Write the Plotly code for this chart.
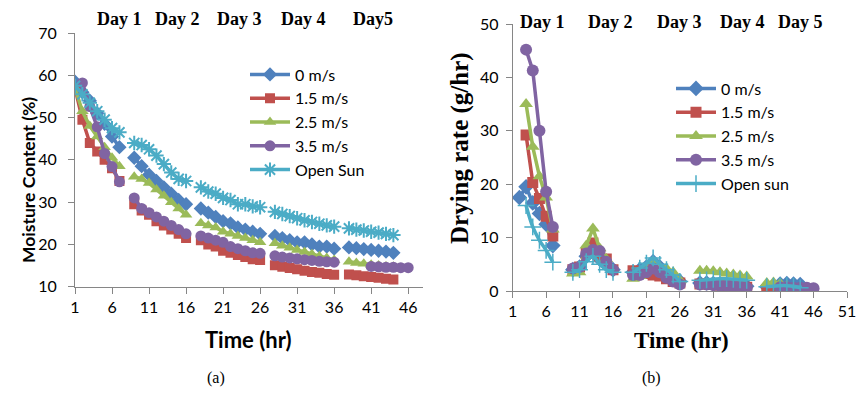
import plotly.graph_objects as go

hours = list(range(1, 47))
series_names_a = ["0 m/s", "1.5 m/s", "2.5 m/s", "3.5 m/s", "Open Sun"]
series_names_b = ["0 m/s", "1.5 m/s", "2.5 m/s", "3.5 m/s", "Open sun"]
day_labels_a = ["Day 1", "Day 2", "Day 3", "Day 4", "Day5"]
day_labels_b = ["Day 1", "Day 2", "Day 3", "Day 4", "Day 5"]
xticks_a = [1, 6, 11, 16, 21, 26, 31, 36, 41, 46]
xticks_b = [1, 6, 11, 16, 21, 26, 31, 36, 41, 46, 51]
yticks_a = [10, 20, 30, 40, 50, 60, 70]
yticks_b = [0, 10, 20, 30, 40, 50]

# (a) Moisture content (%)
mc_0 = [58.5, 56, 54, 51, 48.5, 45.5, 43, None,
        40.5, 38.5, 36.5, 35, 33.5, 32, 30.5, 29.5, None,
        28.5, 27.5, 26.5, 25.5, 25, 24, 23.5, 23, 22.5, None,
        22, 21.5, 21, 20.5, 20.5, 20, 19.5, 19.5, 19, None,
        19.3, 19.1, 18.9, 18.7, 18.5, 18.3, 18, None, None]
mc_15 = [57, 49.5, 44, 42, 40, 38, 35, None,
         29.5, 28, 27, 25.5, 24.5, 23.5, 22.5, 21.5, None,
         21, 20, 19.5, 18.5, 18, 17.5, 17, 16.5, 16.3, None,
         15.1, 14.7, 14.4, 14.1, 13.8, 13.5, 13.3, 13.0, 12.8, None,
         12.9, 12.7, 12.5, 12.3, 12.1, 11.9, 11.7, None, None]
mc_25 = [57, 51.5, 48, 45.5, 43, 40.5, 38.5, None,
         36, 35.5, 34.5, 33, 31.5, 30, 28.5, 27, None,
         25, 24.5, 24, 23, 22.5, 22, 21.5, 21, 20.5, None,
         20.3, 19.7, 19.2, 18.7, 18.2, 17.7, 17.2, 16.8, 16.3, None,
         15.9, 15.6, 15.4, 15.2, 15.0, 14.8, 14.7, None, None]
mc_35 = [None, 58.2, 52.6, 47.8, 41.5, 38.4, 34.8, None,
         31, 28.5, 27.5, 26.5, 25.5, 24.5, 23.5, 22.5, None,
         22, 21.5, 21, 20.5, 19.5, 19, 18.5, 18, 17.9, None,
         17.3, 17.0, 16.8, 16.6, 16.4, 16.2, 16.0, 15.9, 15.8, None,
         None, None, None, 14.8, 14.7, 14.6, 14.6, 14.5, 14.5]
mc_sun = [57.5, 55.5, 53.5, 51.5, 49.5, 47.5, 46.5, None,
          44, 43.5, 42.5, 41, 39, 37, 35.5, 35, None,
          33.5, 32.5, 32, 31, 30.5, 29.5, 29.5, 29, 28.8, None,
          27.7, 27.2, 26.7, 26.2, 25.7, 25.3, 24.9, 24.5, 24.2, None,
          23.8, 23.5, 23.3, 23.0, 22.8, 22.5, 22.2, None, None]

# (b) Drying rate (g/hr)
dr_0 = [None, 17.5, 19.5, 16.5, 14.5, 12.5, 8.5, None,
        None, 4, 4.5, 6.5, 8, 6, 5, 4, None,
        None, 3.5, 4, 4.5, 5.5, 4.5, 3.5, 2.5, 1.8, None,
        None, 1.5, 1.5, 1.4, 1.3, 1.2, 1.1, 1.0, 0.9, None,
        None, 0.8, 1.0, 1.3, 1.4, 1.3, 1.2, None, None]
dr_15 = [None, None, 29.2, 20.3, 17.3, 14, 10.3, None,
         None, 4, 4.5, 7, 9, 6.5, 6, 4, None,
         None, 3.8, 3.5, 3.3, 3, 2.8, 2.3, 1.8, 1.5, None,
         None, 1.3, 1.3, 1.2, 1.1, 1.0, 0.9, 0.8, 0.7, None,
         None, 0.2, 0.2, 0.2, 0.1, 0.1, 0.1, 0.1, None]
dr_25 = [None, None, 35, 27, 21.5, 17.5, 11.5, None,
         None, 3.3, 3.5, 8.5, 11.7, 8, 6, 4, None,
         None, 2.3, 2.8, 4, 5.5, 4.5, 4.2, 3.5, 2, None,
         None, 3.8, 3.8, 3.7, 3.5, 3.3, 3.1, 2.9, 2.7, None,
         None, 1.5, 1.6, 1.4, 1.0, 0.7, 0.5, None, None]
dr_35 = [None, None, 45.2, 41.3, 30, 18.6, 12, None,
         None, 4.2, 4.5, 7, 7.7, 7.5, 5.5, 4, None,
         None, 3, 3, 3.5, 4.2, 3.5, 2.5, 1.8, 1.2, None,
         None, 1.2, 1.2, 1.1, 1.0, 1.0, 0.9, 0.8, 0.6, None,
         None, None, None, 0.7, 0.7, 0.6, 0.6, 0.6, 0.5]
dr_sun = [None, None, 16, 12, 9.5, 7.6, 5.4, None,
          None, 3.5, 4, 5.5, 6.5, 5, 4, 3.5, None,
          None, 3.5, 4.3, 5.2, 6.2, 5, 4, 3, 1.8, None,
          None, 2.0, 2.1, 2.2, 2.3, 2.3, 2.2, 2.1, 2.0, None,
          None, 0.8, 0.9, 1.0, 1.0, 0.9, 0.6, None, None]

colors = ["#4F81BD", "#C0504D", "#9BBB59", "#8064A2", "#4BACC6"]
W, H = 866, 393
SANS = "Lato, 'Open Sans', sans-serif"
SERIF = "'Liberation Serif', 'DejaVu Serif', serif"

def px(x):
    return x / W

def py(y):
    return 1 - y / H

fig = go.Figure()

sym_a = ["diamond", "square", "triangle-up", "circle", "asterisk-open"]
sym_b = ["diamond", "square", "triangle-up", "circle", "cross-thin-open"]
sizes_a = [11, 10, 11, 11, 12]
sizes_b = [12, 11, 12, 12, 12]

for name, vals, c, s, sz in zip(series_names_a, [mc_0, mc_15, mc_25, mc_35, mc_sun], colors, sym_a, sizes_a):
    fig.add_trace(go.Scatter(
        x=hours, y=vals, name=name, mode="lines+markers",
        line=dict(color=c, width=3.5),
        marker=dict(symbol=s, size=sz, color=c, line=dict(color=c, width=2 if "open" in s else 0)),
        xaxis="x", yaxis="y", legend="legend"))

for name, vals, c, s, sz in zip(series_names_b, [dr_0, dr_15, dr_25, dr_35, dr_sun], colors, sym_b, sizes_b):
    fig.add_trace(go.Scatter(
        x=hours, y=vals, name=name, mode="lines+markers",
        line=dict(color=c, width=3.5, shape="spline" if name == "Open sun" else "linear"),
        marker=dict(symbol=s, size=sz, color=c, line=dict(color=c, width=1.5 if "open" in s else 0)),
        xaxis="x2", yaxis="y2", legend="legend2"))

axis_common = dict(showgrid=False, zeroline=False, showline=True, linecolor="#868686", linewidth=1,
                   ticks="outside", ticklen=6, tickcolor="#868686", automargin=False,
                   tickfont=dict(family=SANS, size=16, color="#000000"))

def note(text, x, y, font, angle=0):
    return dict(text=text, x=px(x), y=py(y), xref="paper", yref="paper", xanchor="center",
                yanchor="middle", showarrow=False, textangle=angle, font=font)

annotations = []
for lab, xp in zip(day_labels_a, [119, 177, 240, 303, 373]):
    annotations.append(note("<b>%s</b>" % lab, xp, 19, dict(family=SERIF, size=18, color="#000")))
for lab, xp in zip(day_labels_b, [542, 610, 679, 742, 800]):
    annotations.append(note("<b>%s</b>" % lab, xp, 22, dict(family=SERIF, size=18, color="#000")))
annotations += [
    note("<b>Moisture Content (%)</b>", 28, 180, dict(family=SANS, size=17.5, color="#000"), -90),
    note("<b>Time (hr)</b>", 248, 339, dict(family=SANS, size=22, color="#000")),
    note("<b>Drying rate (g/hr)</b>", 460, 148, dict(family=SERIF, size=25, color="#000"), -90),
    note("<b>Time (hr)</b>", 681, 340, dict(family=SERIF, size=23, color="#000")),
    note("(a)", 216, 378, dict(family=SERIF, size=16, color="#000")),
    note("(b)", 651, 378, dict(family=SERIF, size=16, color="#000")),
]

legend_common = dict(font=dict(family=SANS, size=16, color="#000"), itemwidth=40,
                     bgcolor="rgba(0,0,0,0)", xanchor="left", yanchor="top", tracegroupgap=0)

fig.update_layout(
    template="none",
    width=W, height=H, margin=dict(l=0, r=0, t=0, b=0, autoexpand=False),
    paper_bgcolor="white", plot_bgcolor="white",
    showlegend=True,
    xaxis=dict(domain=[px(75), px(423)], range=[1, 48], tickvals=xticks_a, anchor="y", **axis_common),
    yaxis=dict(domain=[py(286.7), py(33)], range=[10, 70], tickvals=yticks_a, anchor="x",
               ticklabelstandoff=8, **axis_common),
    xaxis2=dict(domain=[px(512.7), px(847)], range=[1, 51], tickvals=xticks_b, anchor="y2", **axis_common),
    yaxis2=dict(domain=[py(291), py(24)], range=[0, 50], tickvals=yticks_b, anchor="x2",
                ticklabelstandoff=4, **axis_common),
    legend=dict(x=px(245), y=py(57.5), **legend_common),
    legend2=dict(x=px(671), y=py(71.5), **legend_common),
    annotations=annotations,
)

fig.write_html("out.html", config={"displayModeBar": False},
               post_script="document.body.style.margin='0px';")
